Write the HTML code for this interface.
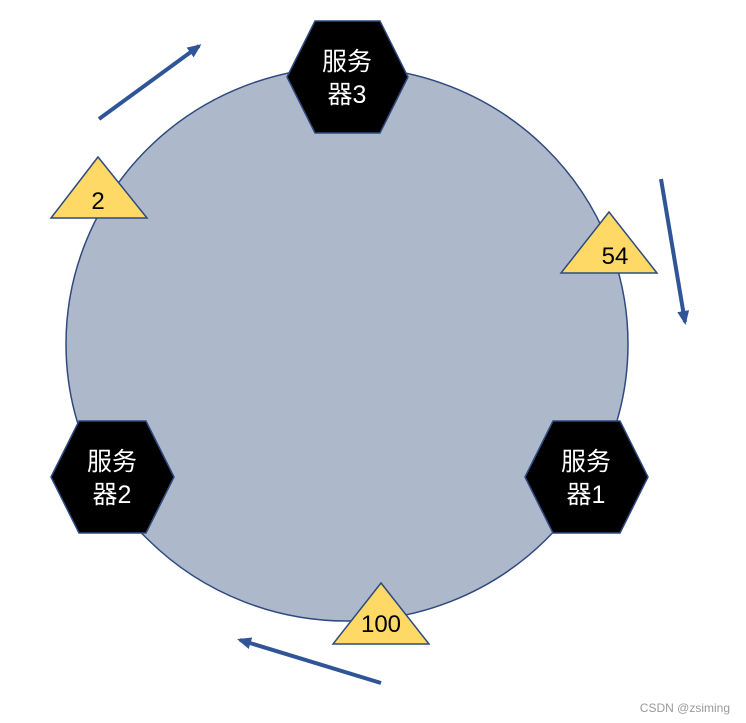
<!DOCTYPE html>
<html><head><meta charset="utf-8"><style>
html,body{margin:0;padding:0;background:#fff;}
svg{display:block;}
text{font-family:"Liberation Sans","Noto Sans CJK SC",sans-serif;}
</style></head><body>
<svg width="746" height="723" viewBox="0 0 746 723" xmlns="http://www.w3.org/2000/svg">
<defs>
<marker id="ah" markerWidth="14" markerHeight="12" refX="11" refY="6" orient="auto" markerUnits="userSpaceOnUse" viewBox="0 0 14 12">
<path d="M0,0 L14,6 L0,12 z" fill="#2F5597"/>
</marker>
</defs>
<ellipse cx="347" cy="344" rx="281" ry="277" fill="#ADB9CA" stroke="#2F4A80" stroke-width="1.5"/>
<g stroke="#2F5597" stroke-width="4" fill="none">
<line x1="99" y1="119" x2="199" y2="46" marker-end="url(#ah)"/>
<line x1="661" y1="179" x2="685" y2="322" marker-end="url(#ah)"/>
<line x1="381" y1="683" x2="240" y2="640" marker-end="url(#ah)"/>
</g>
<g fill="#000" stroke="#2F4A80" stroke-width="1.5">
<polygon points="287,77 315,21 380,21 408,77 380,133 315,133"/>
<polygon points="51,477 79,421 146,421 174,477 146,533 79,533"/>
<polygon points="525,477 553,421 620,421 648,477 620,533 553,533"/>
</g>
<g fill="#fff" font-size="25" text-anchor="middle">
<text x="347" y="70">服务</text><text x="347" y="103">器3</text>
<text x="112" y="470">服务</text><text x="112" y="503">器2</text>
<text x="586" y="470">服务</text><text x="586" y="503">器1</text>
</g>
<g fill="#FFD966" stroke="#2F4A80" stroke-width="1.5">
<polygon points="98,157 51,218 147,218"/>
<polygon points="609,212 561,273 657,273"/>
<polygon points="381,583 333,644 429,644"/>
</g>
<g fill="#000" font-size="24" text-anchor="middle">
<text x="98" y="209">2</text>
<text x="615" y="264">54</text>
<text x="381" y="632">100</text>
</g>
<text x="730" y="712" font-size="12" fill="#999" text-anchor="end">CSDN @zsiming</text>
</svg>
</body></html>
